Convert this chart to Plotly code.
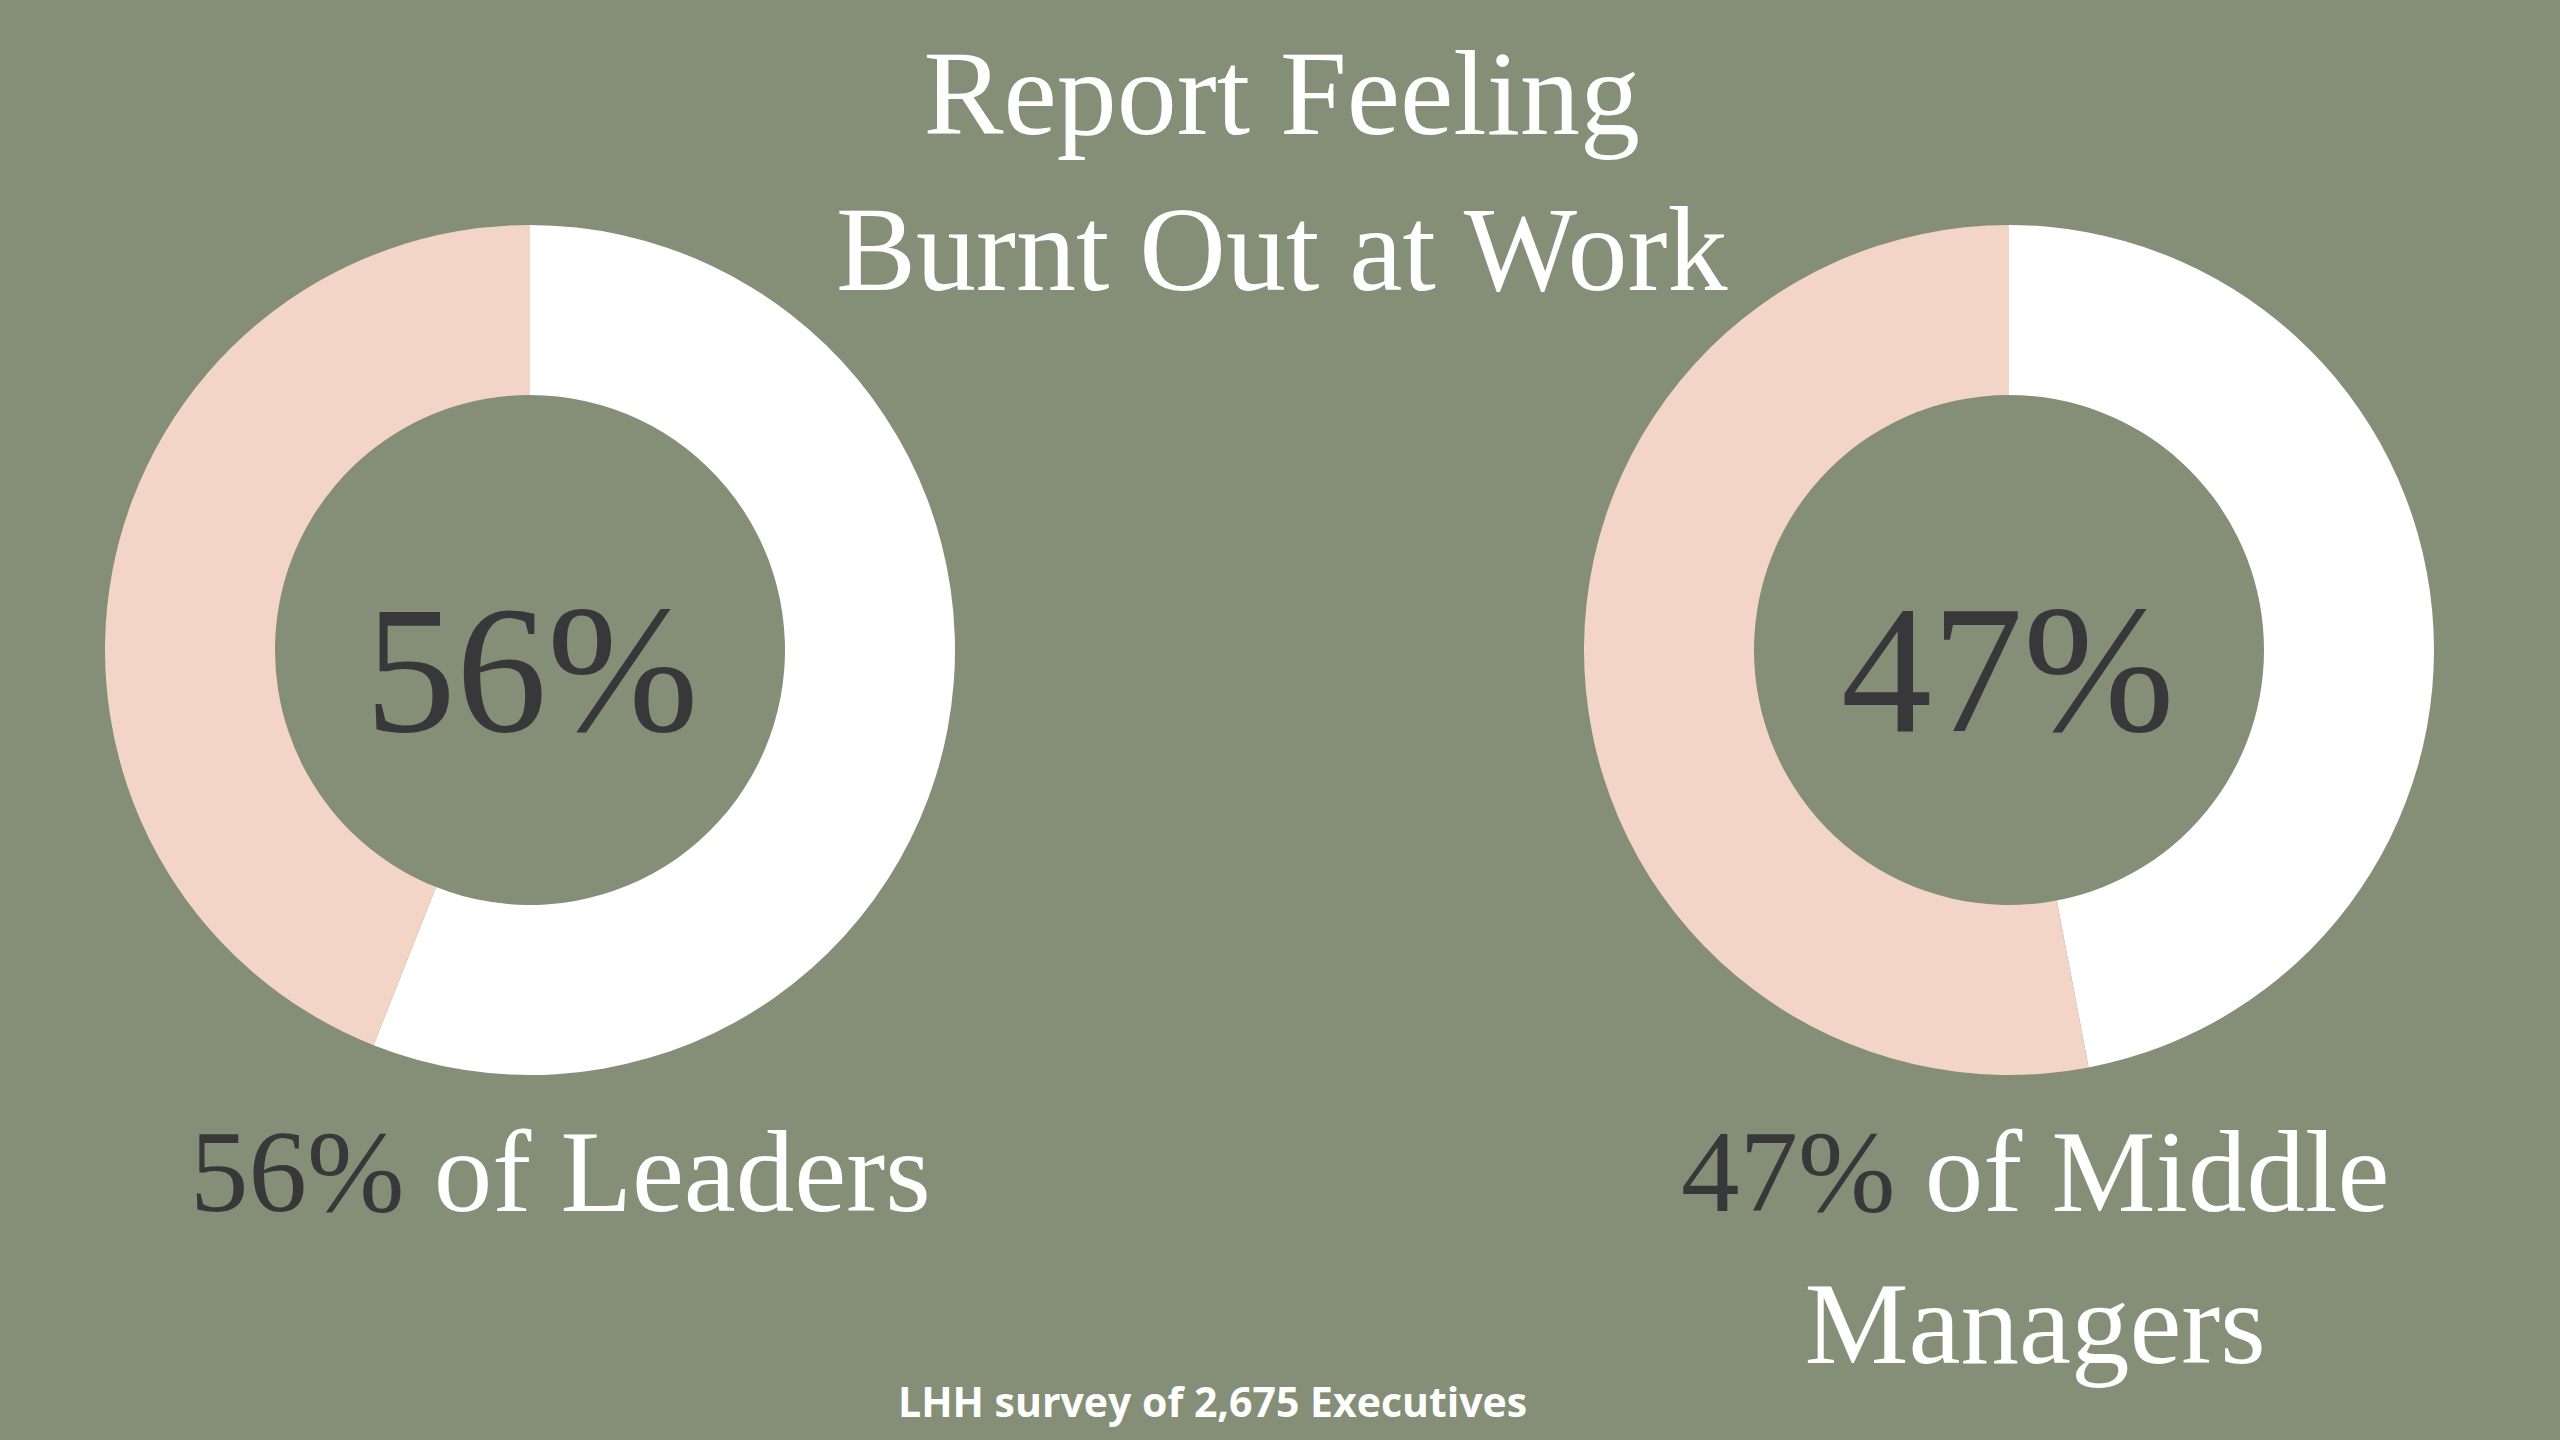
import plotly.graph_objects as go

W, H = 2560, 1440

groups = ["Leaders", "Middle Managers"]
burnt_out = [56, 47]
not_burnt_out = [44, 53]
center_labels = ["56%", "47%"]
slice_names = ["Burnt out", "Not burnt out"]

BG = "#858E76"
WHITE = "#FFFFFF"
PINK = "#F2D5C7"
DARK = "#38383B"
SERIF = "Liberation Serif, Times New Roman, serif"
SANS = "Open Sans, Noto Sans, sans-serif"

def px_x(x):
    return x / W

def px_y(y):
    return 1 - y / H

fig = go.Figure()

centers = [(530, 650), (2009, 650)]
R = 425
for i, (cx, cy) in enumerate(centers):
    fig.add_trace(go.Pie(
        labels=slice_names,
        values=[burnt_out[i], not_burnt_out[i]],
        sort=False,
        direction="clockwise",
        rotation=0,
        hole=0.6,
        marker=dict(colors=[WHITE, PINK], line=dict(width=0)),
        textinfo="none",
        hoverinfo="skip",
        showlegend=False,
        domain=dict(x=[px_x(cx - R), px_x(cx + R)],
                    y=[px_y(cy + R), px_y(cy - R)]),
    ))

annotations = [
    dict(text="Report Feeling<br>Burnt Out at Work", x=px_x(1281), y=px_y(318),
         xanchor="center", yanchor="bottom",
         font=dict(family=SERIF, size=120, color=WHITE)),
    dict(text=center_labels[0], x=px_x(532), y=px_y(772),
         xanchor="center", yanchor="bottom",
         font=dict(family=SERIF, size=182, color=DARK)),
    dict(text=center_labels[1], x=px_x(2008), y=px_y(772),
         xanchor="center", yanchor="bottom",
         font=dict(family=SERIF, size=182, color=DARK)),
    dict(text=f'<span style="color:{DARK}">{center_labels[0]}</span> of Leaders',
         x=px_x(560), y=px_y(1238), xanchor="center", yanchor="bottom",
         font=dict(family=SERIF, size=117, color=WHITE)),
    dict(text=f'<span style="color:{DARK}">{center_labels[1]}</span> of Middle<br>Managers',
         x=px_x(2035), y=px_y(1390), xanchor="center", yanchor="bottom",
         font=dict(family=SERIF, size=117, color=WHITE)),
    dict(text="<b>LHH survey of 2,675 Executives</b>", x=px_x(1212), y=px_y(1431),
         xanchor="center", yanchor="bottom",
         font=dict(family=SANS, size=41, color=WHITE)),
]
for a in annotations:
    a.update(xref="paper", yref="paper", showarrow=False, align="center")

fig.update_layout(
    width=W, height=H,
    margin=dict(l=0, r=0, t=0, b=0),
    paper_bgcolor=BG, plot_bgcolor=BG,
    annotations=annotations,
)

fig.write_html(
    "out.html",
    config={"displayModeBar": False},
    post_script=f"document.body.style.margin='0';document.body.style.background='{BG}';",
)
